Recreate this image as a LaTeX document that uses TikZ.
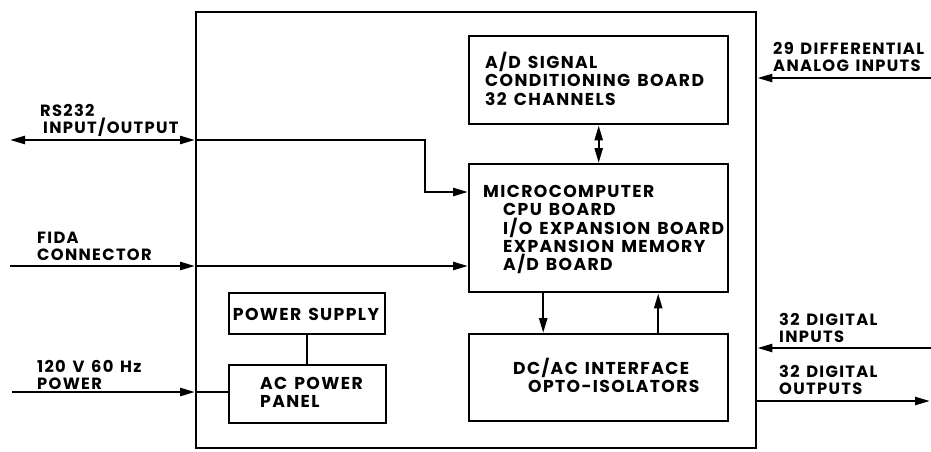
\documentclass[tikz,border=0pt]{standalone}
\usepackage{fontspec}
\setmainfont{Poppins}[LetterSpace=8, WordSpace=1.4]
\usetikzlibrary{arrows.meta,calc}
\tikzset{
  x=1pt, y=-1pt,
  wire/.style={line width=2.4pt},
  arr/.style={wire, -{Triangle[length=15pt,width=8pt]}},
  both/.style={wire, {Triangle[length=15pt,width=8pt]}-{Triangle[length=15pt,width=8pt]}},
  blk/.style={draw, line width=2.4pt, inner sep=0pt, anchor=north west},
  lbl/.style={inner sep=0pt, anchor=north west, align=left,
    font=\fontsize{17.2}{18.3}\selectfont\bfseries},
  ext/.style={lbl, font=\fontsize{16.3}{17}\selectfont\bfseries},
}
\begin{document}
\begin{tikzpicture}
\useasboundingbox (0,0) rectangle (931,451);
% blocks
\node[blk, minimum width=560pt, minimum height=436pt] (outer) at (195,11) {};
\node[blk, minimum width=259pt, minimum height=88pt] (ad) at (468,35) {};
\node[blk, minimum width=259pt, minimum height=128pt] (micro) at (468,163) {};
\node[blk, minimum width=259pt, minimum height=87pt] (dcac) at (468,333) {};
\node[blk, minimum width=156pt, minimum height=41pt] (ps) at (228,292) {};
\node[blk, minimum width=157pt, minimum height=58pt] (ac) at (228,364) {};
% block texts
\node[lbl] (adt) at (485,52) {A/D SIGNAL\\CONDITIONING BOARD\\32 CHANNELS};
\node[lbl] (mt) at (483,185) {MICROCOMPUTER\\\hspace*{20pt}CPU BOARD\\\hspace*{20pt}I/O EXPANSION BOARD\\\hspace*{20pt}EXPANSION MEMORY\\\hspace*{20pt}A/D BOARD};
\node[lbl] (dt) at (513,358) {DC/AC INTERFACE\\\hspace*{15pt}OPTO-ISOLATORS};
\node[lbl, anchor=north] (pst) at (306,308) {POWER SUPPLY};
\node[lbl] (act) at (260,377) {AC POWER\\PANEL};
% external labels
\node[ext] (rst) at (40,104) {RS232\\\hspace*{3pt}INPUT/OUTPUT};
\node[ext] (fdt) at (37,232) {FIDA\\CONNECTOR};
\node[ext] (pwt) at (37,360) {120 V 60 Hz\\POWER};
\node[ext] (d29t) at (773,42) {29 DIFFERENTIAL\\ANALOG INPUTS};
\node[ext] (dint) at (779,313) {32 DIGITAL\\INPUTS};
\node[ext] (doutt) at (779,365) {32 DIGITAL\\OUTPUTS};
% connectors
\coordinate (rs) at (10,140);
\draw[both] (rs) -- (rs -| outer.west);
\draw[arr] (rs -| outer.west) -- (425,140) |- ([yshift=-29pt]micro.north west);
\coordinate (fida) at (10,266);
\draw[arr] (fida) -- (fida -| outer.west);
\draw[arr] (fida -| outer.west) -- (fida -| micro.west);
\coordinate (pw) at (12,392);
\draw[arr] (pw) -- (pw -| outer.west);
\draw[wire] (pw -| outer.west) -- (pw -| ac.west);
\draw[wire] (ps.south) -- (ac.north -| ps.south);
\draw[both] (ad.south) -- (micro.north);
\draw[arr] ([xshift=-55.5pt]micro.south) -- ([xshift=-55.5pt]dcac.north);
\draw[arr] ([xshift=59.5pt]dcac.north) -- ([xshift=59.5pt]micro.south);
\coordinate (d29) at (931,78);
\draw[arr] (d29) -- (d29 -| outer.east);
\coordinate (din) at (931,348);
\draw[arr] (din) -- (din -| outer.east);
\coordinate (dout) at (930,401);
\draw[arr] (dout -| outer.east) -- (dout);
\end{tikzpicture}
\end{document}
